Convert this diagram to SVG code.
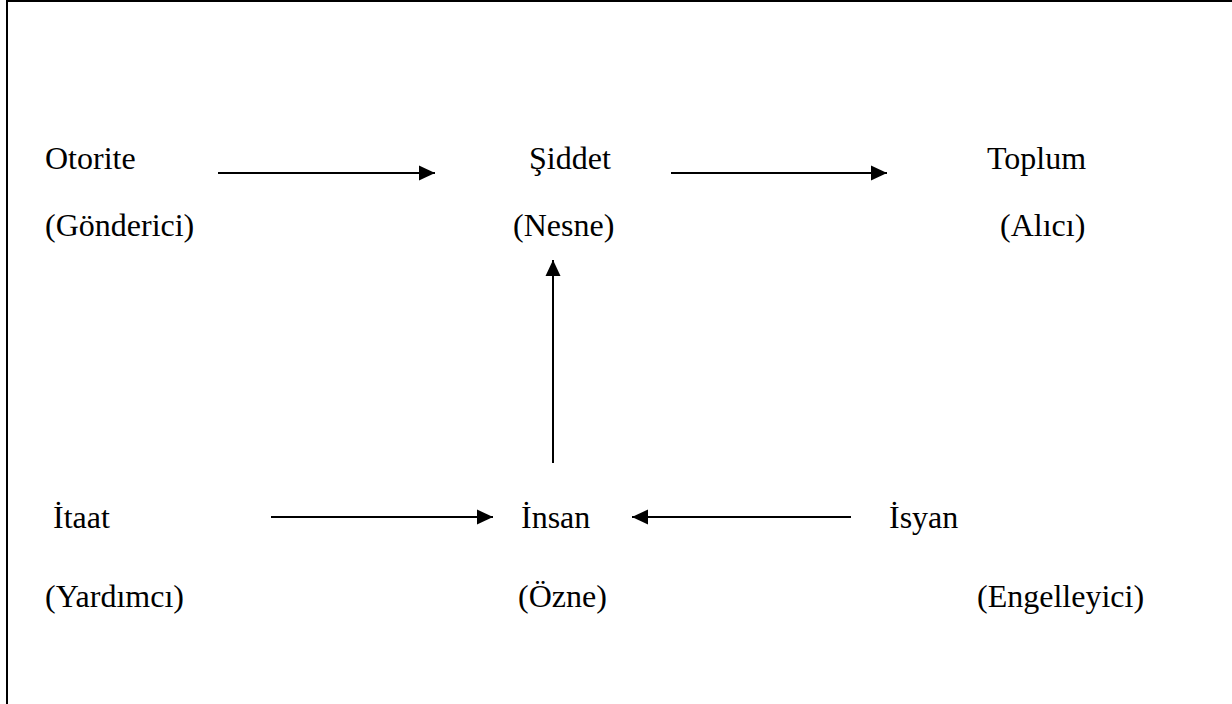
<svg xmlns="http://www.w3.org/2000/svg" width="1232" height="704" viewBox="0 0 1232 704">
<defs>
<style>
.t{font-family:'Liberation Serif','Times New Roman','DejaVu Serif',serif;font-size:32px;fill:#000}
.c{stroke:#000;stroke-width:2;fill:none}
</style>
<marker id="ah" markerUnits="userSpaceOnUse" markerWidth="16" markerHeight="16" refX="16" refY="8" orient="auto">
<path d="M0,0.5 L16,8 L0,15.5 Z" fill="#000"/>
</marker>
</defs>
<rect width="1232" height="704" fill="#fff"/>
<g id="border" class="c">
<line x1="7" y1="0" x2="7" y2="704"/>
<line x1="6" y1="1" x2="1232" y2="1"/>
</g>
<g id="connectors" class="c">
<line x1="218" y1="173" x2="435" y2="173" marker-end="url(#ah)"/>
<line x1="671" y1="173" x2="887" y2="173" marker-end="url(#ah)"/>
<line x1="553" y1="463" x2="553" y2="260" marker-end="url(#ah)"/>
<line x1="271" y1="517" x2="493" y2="517" marker-end="url(#ah)"/>
<line x1="851" y1="517" x2="632" y2="517" marker-end="url(#ah)"/>
</g>
<g id="otorite" class="t"><text x="45" y="169">Otorite</text><text x="45" y="236">(Gönderici)</text></g>
<g id="siddet" class="t"><text x="529" y="169">Şiddet</text><text x="513" y="236">(Nesne)</text></g>
<g id="toplum" class="t"><text x="987" y="169">Toplum</text><text x="1000" y="236">(Alıcı)</text></g>
<g id="itaat" class="t"><text x="53" y="528">İtaat</text><text x="45" y="607">(Yardımcı)</text></g>
<g id="insan" class="t"><text x="521" y="528">İnsan</text><text x="518" y="607">(Özne)</text></g>
<g id="isyan" class="t"><text x="889" y="528">İsyan</text><text x="977" y="607">(Engelleyici)</text></g>
</svg>
